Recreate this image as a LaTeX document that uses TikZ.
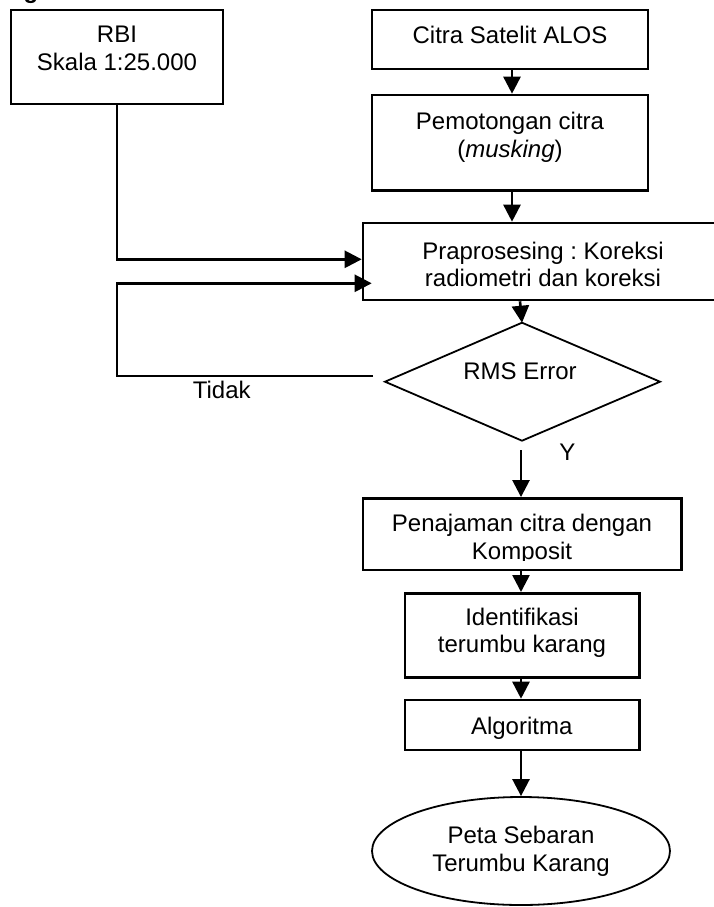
\documentclass[tikz,border=0pt]{standalone}
\usepackage{fontspec}
\setmainfont{Liberation Sans}
\usetikzlibrary{arrows.meta,shapes.geometric}
\frenchspacing
\begin{document}
\begin{tikzpicture}[x=1pt,y=-1pt,
  font=\fontsize{24}{27.5}\selectfont,
  boxst/.style={draw, line width=2.6pt, rectangle, inner sep=0pt},
  txt/.style={align=center, inner sep=0pt},
  conn/.style={line width=2.6pt, -{Triangle[length=17pt,width=17pt]}},
  thin/.style={draw, line width=1.8pt}]
\useasboundingbox (0,0) rectangle (713,907);
\fill[white] (0,0) rectangle (713,907);
% partial heading glyph
\node[anchor=base, inner sep=0pt, font=\fontsize{24}{27.5}\selectfont\bfseries] (hdg) at (31,-1) {g};
% boxes
\node[boxst, minimum width=212pt, minimum height=94pt] (rbi) at (117,57) {};
\node[txt] (rbit) at (117,48.4) {RBI\\Skala 1:25.000};
\node[boxst, minimum width=276pt, minimum height=59pt] (citra) at (510,39.5) {};
\node[txt] (citrat) at (510,35) {Citra Satelit ALOS};
\node[boxst, minimum width=276pt, minimum height=95.5pt] (potong) at (510,142.75) {};
\node[txt] (potongt) at (510,137.5) {Pemotongan citra\\(\textit{musking})};
\node[boxst, minimum width=360pt, minimum height=77pt] (prap) at (543,261.5) {};
\node[txt] (prapt) at (543,264.5) {Praprosesing : Koreksi\\radiometri dan koreksi};
% diamond
\coordinate (dt) at (522,322.7);
\coordinate (dr) at (660,381.7);
\coordinate (db) at (522,440.7);
\coordinate (dl) at (385,381.7);
\draw[thin, line join=miter] (dt) -- (dr) -- (db) -- (dl) -- cycle;
\node[txt] (rms) at (520,371.7) {RMS Error};
\node[txt] (tidak) at (221.7,390) {Tidak};
\node[txt] (ylab) at (567.3,452.7) {Y};
\node[boxst, minimum width=318.7pt, minimum height=71.7pt] (penaj) at (522.3,534.2) {};
\begin{scope}
\clip (363,498) rectangle (682,560);
\node[txt] (penajt) at (522,539.5) {Penajaman citra dengan\\Komposit};
\end{scope}
\node[boxst, minimum width=234.3pt, minimum height=84pt] (ident) at (522.2,635.3) {};
\node[txt] (identt) at (522,633) {Identifikasi\\terumbu karang};
\node[boxst, minimum width=234.3pt, minimum height=50pt] (algo) at (522.2,725) {};
\node[txt] (algot) at (521.7,728.5) {Algoritma};
\node[thin, ellipse, minimum width=298pt, minimum height=108pt, inner sep=0pt] (peta) at (521,851) {};
\node[txt] (petat) at (521,851.5) {Peta Sebaran\\Terumbu Karang};
% connectors
\coordinate (xa) at (512,0);
\coordinate (xb) at (521,0);
\coordinate (xc) at (520,0);
\coordinate (yr) at (0,259.3);
\coordinate (fbs) at (373,376);
\coordinate (fbc) at (117,283.3);
\coordinate (fbe) at (371.7,283.3);
\coordinate (ys) at (521,450);
\draw[conn] (citra.south -| xa) -- (potong.north -| xa);
\draw[conn] (potong.south -| xa) -- (prap.north -| xa);
\draw[conn] (rbi.south) |- (prap.west |- yr);
\draw[conn] (fbs) -| (fbc) -- (fbe);
\draw[conn] (prap.south -| xc) -- (dt);
\draw[conn] (ys) -- (penaj.north -| ys);
\draw[conn] (penaj.south -| xb) -- (ident.north -| xb);
\draw[conn] (ident.south -| xb) -- (algo.north -| xb);
\draw[conn] (algo.south -| xb) -- (peta.north -| xb);
\end{tikzpicture}
\end{document}
